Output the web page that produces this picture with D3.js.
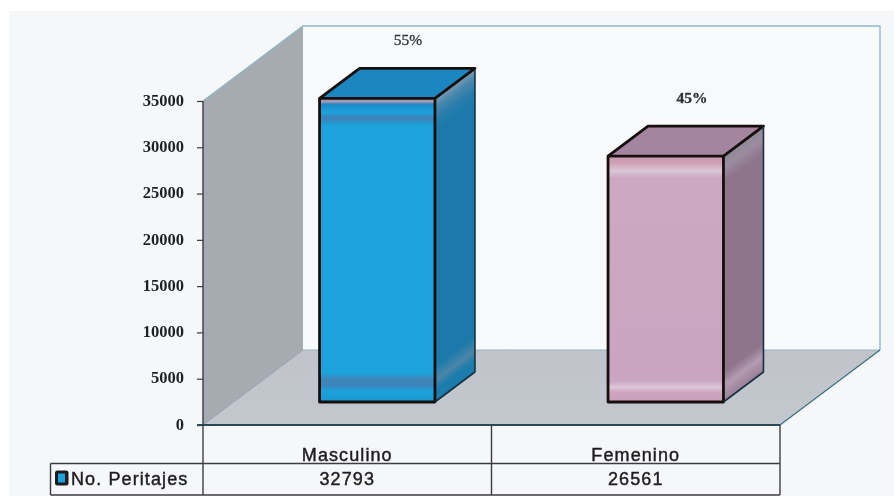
<!DOCTYPE html>
<html><head><meta charset="utf-8">
<script src="https://cdn.jsdelivr.net/npm/d3@7"></script>
<style>html,body{margin:0;padding:0;background:#fff}svg{display:block}</style>
</head><body><svg id="c" width="894" height="496"></svg>
<script>
const categories = ["Masculino", "Femenino"];
const values = [32793, 26561];
const percents = ["55%", "45%"];
const yTicks = [0, 5000, 10000, 15000, 20000, 25000, 30000, 35000];
const seriesName = "No. Peritajes";

const themes = [
  {top:"#1e86c0", side:"#1b7aab", edge:"#2d7fa8",
   stops:[[0,"#a49ab8"],[0.012,"#a49ab8"],[0.018,"#2088c4"],[0.045,"#1ba2dc"],[0.065,"#3f80b5"],[0.09,"#1ba2dc"],[0.905,"#1ba2dc"],[0.925,"#4285b8"],[0.945,"#3c84bb"],[0.965,"#1ba2dc"],[1,"#1a96cf"]],
   sideStops:[[0,"#7d9cb2"],[0.03,"#4a88ad"],[0.07,"#2a7dab"],[0.11,"#1b7aab"],[0.88,"#1b7aab"],[0.93,"#4a86a8"],[0.96,"#1f7cab"],[1,"#1b7aab"]]},
  {top:"#a3859f", side:"#8e7589", edge:"#8e8592",
   stops:[[0,"#cd9bb0"],[0.025,"#cf9db3"],[0.06,"#dcc6d8"],[0.09,"#cca8c2"],[0.915,"#c9a5c1"],[0.94,"#dcc8d8"],[0.96,"#cfa6c0"],[1,"#c89fb9"]],
   sideStops:[[0,"#8f8a96"],[0.05,"#9b8c9e"],[0.11,"#8e7589"],[0.88,"#8e7589"],[0.935,"#b39bb0"],[1,"#9a7f96"]]}
];

const svg = d3.select("#c");
const defs = svg.append("defs");
defs.append("filter").attr("id","soft").append("feGaussianBlur").attr("stdDeviation",0.5);
const root = svg.append("g").attr("filter","url(#soft)");

const x0 = 203, xEnd = 780, yBase = 425, yTop = 101;
const depthX = 100, depthY = 75;
const x = d3.scaleBand().domain(categories).range([x0, xEnd]);
const y = d3.scaleLinear().domain([0, 35000]).range([yBase, yTop]);
const poly = pts => pts.map(p => p.join(",")).join(" ");

root.append("rect").attr("x",9).attr("y",11).attr("width",885).attr("height",485).attr("fill","#f6f7f8");

// back wall
root.append("polygon").attr("points",poly([[x0+depthX,yTop-depthY],[xEnd+depthX,yTop-depthY],[xEnd+depthX,yBase-depthY],[x0+depthX,yBase-depthY]])).attr("fill","#f8f9fa");
// side wall
root.append("polygon").attr("points",poly([[x0,yTop],[x0+depthX,yTop-depthY],[x0+depthX,yBase-depthY],[x0,yBase]])).attr("fill","#a6abb2");
// floor
const fg = defs.append("linearGradient").attr("id","floor").attr("x1",0).attr("x2",0).attr("y1",0).attr("y2",1);
fg.append("stop").attr("offset",0).attr("stop-color","#c0c3ca");
fg.append("stop").attr("offset",1).attr("stop-color","#c3c7ce");
root.append("polygon").attr("points",poly([[x0,yBase],[x0+depthX,yBase-depthY],[xEnd+depthX,yBase-depthY],[xEnd,yBase]])).attr("fill","url(#floor)");
// wall edges
root.append("polyline").attr("points",poly([[x0,yTop],[x0+depthX,yTop-depthY],[xEnd+depthX,yTop-depthY],[xEnd+depthX,yBase-depthY]])).attr("fill","none").attr("stroke","#8db5c6").attr("stroke-width",1.3);
root.append("line").attr("x1",x0+depthX).attr("x2",xEnd+depthX).attr("y1",yBase-depthY).attr("y2",yBase-depthY).attr("stroke","#93b6c6").attr("stroke-width",1);
root.append("line").attr("x1",xEnd).attr("x2",xEnd+depthX).attr("y1",yBase).attr("y2",yBase-depthY).attr("stroke","#3a6d7c").attr("stroke-width",1.2);
root.append("line").attr("x1",x0).attr("x2",x0+depthX).attr("y1",yBase).attr("y2",yBase-depthY).attr("stroke","#9aa0a8").attr("stroke-width",1);

// bars
const barW = x.bandwidth()*0.4, shiftX = 30, liftY = 23, barDX = 40, barDY = 30;
const barStroke = "#17100f";
values.forEach((v,i) => {
  const c = categories[i], t = themes[i];
  const l = x(c) + x.bandwidth()/2 - barW/2 + shiftX, r = l + barW;
  const b = y(0) - liftY, h = y(0) - y(v), u = b - h;
  const g = root.append("g");
  const front = defs.append("linearGradient").attr("id","f"+i).attr("gradientUnits","userSpaceOnUse").attr("x1",0).attr("x2",0).attr("y1",u).attr("y2",b);
  t.stops.forEach(s => front.append("stop").attr("offset",s[0]).attr("stop-color",s[1]));
  const k = 0.8*h;
  const side = defs.append("linearGradient").attr("id","s"+i).attr("gradientUnits","userSpaceOnUse").attr("x1",r).attr("y1",u).attr("x2",r+0.6*k).attr("y2",u+0.8*k);
  t.sideStops.forEach(s => side.append("stop").attr("offset",s[0]).attr("stop-color",s[1]));
  g.append("polygon").attr("points",poly([[r,u],[r+barDX,u-barDY],[r+barDX,b-barDY],[r,b]])).attr("fill",`url(#s${i})`);
  g.append("polygon").attr("points",poly([[l,u],[l+barDX,u-barDY],[r+barDX,u-barDY],[r,u]])).attr("fill",t.top);
  g.append("rect").attr("x",l).attr("y",u).attr("width",barW).attr("height",h).attr("fill",`url(#f${i})`);
  const st = s => s.attr("fill","none").attr("stroke",barStroke).attr("stroke-width",2.8).attr("stroke-linejoin","round");
  g.append("rect").attr("x",l).attr("y",u).attr("width",barW).attr("height",h).call(st);
  g.append("polyline").attr("points",poly([[l,u],[l+barDX,u-barDY],[r+barDX,u-barDY],[r,u]])).call(st);
  g.append("polyline").attr("points",poly([[r+barDX,u-barDY],[r+barDX,b-barDY],[r,b]])).call(st).attr("stroke-width",1.6).attr("stroke","#16333f");
  root.append("text").attr("x",[408,692][i]).attr("y",u-barDY-23).attr("text-anchor","middle")
    .attr("font-family","Liberation Serif").attr("font-size",15.5).attr("fill","#2e3338")
    .attr("stroke","#2e3338").attr("stroke-width",0.3)
    .attr("font-weight",i?"bold":"normal").text(percents[i]);
});

// y axis
const axis = d3.axisLeft(y).tickValues(yTicks).tickFormat(d3.format("d")).tickSize(6).tickPadding(13);
const ax = root.append("g").attr("transform",`translate(${x0},0)`).call(axis);
ax.select(".domain").attr("stroke","#3a3a3c").attr("stroke-width",1.4).attr("d",`M0,${yTop}V${yBase}`);
ax.selectAll(".tick line").attr("stroke","#3a3a3c").attr("stroke-width",1.2);
ax.selectAll("text").attr("y",-1).attr("font-family","Liberation Serif").attr("font-weight","bold").attr("font-size",16.5).attr("fill","#1f2124");

// data table
const tStroke = "#3e3e40";
const hl = (x1,x2,yy,col,w) => root.append("line").attr("x1",x1).attr("x2",x2).attr("y1",yy).attr("y2",yy).attr("stroke",col).attr("stroke-width",w);
const vl = (xx,y1,y2) => root.append("line").attr("x1",xx).attr("x2",xx).attr("y1",y1).attr("y2",y2).attr("stroke",tStroke).attr("stroke-width",1.4);
const rowTop = 463.5, rowBot = 495;
hl(x0-6,xEnd,yBase,"#2b4a56",1.8);
hl(50.5,xEnd,rowTop,tStroke,1.4);
hl(50.5,xEnd,rowBot,tStroke,1.4);
vl(50.5,rowTop,rowBot);
vl(x0,yBase,rowBot);
vl(xEnd,yBase,rowBot);
vl(x(categories[1]),yBase,rowBot);
const sans = s => s.attr("font-family","Liberation Sans").attr("font-size",18).attr("letter-spacing",1.1).attr("fill","#1f1f21").attr("stroke","#1f1f21").attr("stroke-width",0.45);
categories.forEach((c,i) => {
  const cx = x(c) + x.bandwidth()/2;
  root.append("text").attr("x",cx).attr("y",461).attr("text-anchor","middle").call(sans).text(c);
  root.append("text").attr("x",cx).attr("y",485).attr("text-anchor","middle").call(sans).text(values[i]);
});
root.append("rect").attr("x",55).attr("y",470.5).attr("width",13.5).attr("height",15).attr("rx",2.5).attr("fill","#1a1a1c");
root.append("rect").attr("x",58).attr("y",473.5).attr("width",7).attr("height",9).attr("fill",themes[0].stops[5][1]);
root.append("text").attr("x",71).attr("y",484.5).call(sans).text(seriesName);
</script></body></html>
